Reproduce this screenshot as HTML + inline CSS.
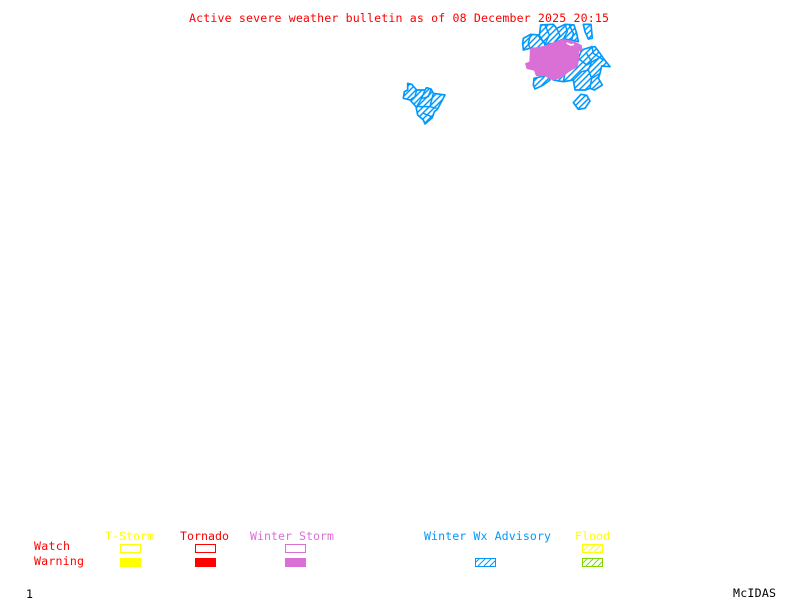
<!DOCTYPE html>
<html>
<head>
<meta charset="utf-8">
<style>
html,body{margin:0;padding:0;background:#fff;width:800px;height:600px;overflow:hidden}
svg{display:block}
text{font-family:"DejaVu Sans Mono","Liberation Mono",monospace;font-size:11.6px}
</style>
</head>
<body>
<svg width="800" height="600" viewBox="0 0 800 600" xmlns="http://www.w3.org/2000/svg">
<defs>
<pattern id="h" width="18" height="18" patternUnits="userSpaceOnUse">
<path d="M-4.500 4.500L4.500 -4.500M0 18L18 0M13.500 22.500L22.500 13.500" stroke="#0099ff" stroke-width="4.500" fill="none"/>
</pattern>
<pattern id="hb" width="6" height="6" patternUnits="userSpaceOnUse">
<path d="M-1.500 1.500L1.500 -1.500M0 6L6 0M4.500 7.500L7.500 4.500" stroke="#0099ff" stroke-width="1" fill="none"/>
</pattern>
<pattern id="hy" width="6" height="6" patternUnits="userSpaceOnUse">
<path d="M-1.500 1.500L1.500 -1.500M0 6L6 0M4.500 7.500L7.500 4.500" stroke="#ffff00" stroke-width="1" fill="none"/>
</pattern>
<pattern id="hg" width="6" height="6" patternUnits="userSpaceOnUse">
<path d="M-1.500 1.500L1.500 -1.500M0 6L6 0M4.500 7.500L7.500 4.500" stroke="#80d800" stroke-width="1" fill="none"/>
</pattern>
</defs>

<text x="189" y="22" fill="#ff0000" textLength="420" lengthAdjust="spacing">Active severe weather bulletin as of 08 December 2025 20:15</text>

<!-- upper right cluster (zoom-crop coordinates) -->
<g transform="translate(510,15) scale(0.33333)" fill="url(#h)" stroke="#0099ff" stroke-width="5" stroke-linejoin="round">
<polygon points="40,70 62,58 85,60 90,70 105,85 105,95 80,100 60,100 40,105 38,85"/>
<polygon points="92,30 130,28 140,40 165,28 192,30 200,55 205,80 185,75 160,72 130,85 105,88 88,62"/>
<polygon points="220,28 243,28 247,70 235,72 225,50"/>
<polygon points="205,130 215,105 240,97 255,95 270,115 280,130 300,155 275,153 270,175 265,190 277,210 253,225 240,220 227,225 195,225 190,195 160,200 130,195 170,170 200,155"/>
<polygon points="72,190 115,180 120,195 100,210 75,222 70,210"/>
<polygon points="213,238 230,241 240,258 225,280 205,283 190,263"/>
<path fill="none" stroke-width="4.500" d="M62,58L55,85L60,100M105,30L118,60L105,88M140,40L150,62L130,85M165,28L172,50L160,72M178,30L190,55L185,75M230,115L245,140L235,165L245,190L240,220M205,130L230,150L265,130M190,195L215,170L235,165M245,92L250,115L280,135M160,200L165,175M270,175L245,190"/>
</g>

<!-- pink warning area -->
<g transform="translate(510,15) scale(0.33333)">
<polygon fill="#da70d6" points="60,100 100,93 130,82 160,72 190,78 215,90 218,105 207,110 207,130 203,155 175,172 155,188 130,197 105,184 78,183 72,167 50,162 45,145 58,140"/>
<path fill="none" stroke="#fff" stroke-width="5" d="M170,84L182,90L192,88"/>
</g>

<!-- lower left cluster -->
<g transform="translate(395,75) scale(0.33333)" fill="url(#h)" stroke="#0099ff" stroke-width="5" stroke-linejoin="round">
<polygon points="38,25 50,28 65,45 90,45 95,38 108,42 115,55 150,60 127,103 118,110 112,128 90,147 85,135 68,120 63,95 45,75 25,70 28,50 38,45"/>
<path fill="none" stroke-width="4.500" d="M65,45L60,65L45,75M90,45L80,70L65,95M108,42L100,65L82,70M115,55L105,95L125,100M70,95L105,95M85,115L110,125"/>
</g>

<!-- legend labels -->
<text x="105" y="540" fill="#ffff00" textLength="49" lengthAdjust="spacing">T-Storm</text>
<text x="180" y="540" fill="#ff0000" textLength="49" lengthAdjust="spacing">Tornado</text>
<text x="250" y="540" fill="#da70d6" textLength="84" lengthAdjust="spacing">Winter Storm</text>
<text x="424" y="540" fill="#0099ff" textLength="127" lengthAdjust="spacing">Winter Wx Advisory</text>
<text x="575" y="540" fill="#ffff00" textLength="35" lengthAdjust="spacing">Flood</text>
<text x="34" y="550" fill="#ff0000" textLength="36" lengthAdjust="spacing">Watch</text>
<text x="34" y="565" fill="#ff0000" textLength="50" lengthAdjust="spacing">Warning</text>
<text x="26" y="598" fill="#000000">1</text>
<text x="733" y="597" fill="#000000" textLength="43" lengthAdjust="spacing">McIDAS</text>

<!-- legend boxes -->
<g shape-rendering="crispEdges">
<rect x="120.500" y="544.500" width="20" height="8" fill="#fff" stroke="#ffff00"/>
<rect x="195.500" y="544.500" width="20" height="8" fill="#fff" stroke="#ff0000"/>
<rect x="285.500" y="544.500" width="20" height="8" fill="#fff" stroke="#da70d6"/>
<rect x="120" y="558" width="21" height="9" fill="#ffff00"/>
<rect x="195" y="558" width="21" height="9" fill="#ff0000"/>
<rect x="285" y="558" width="21" height="9" fill="#da70d6"/>
</g>
<rect x="475.500" y="558.500" width="20" height="8" fill="url(#hb)" stroke="#0099ff"/>
<rect x="582.500" y="544.500" width="20" height="8" fill="url(#hy)" stroke="#ffff00"/>
<rect x="582.500" y="558.500" width="20" height="8" fill="url(#hg)" stroke="#80d800"/>
</svg>
</body>
</html>
